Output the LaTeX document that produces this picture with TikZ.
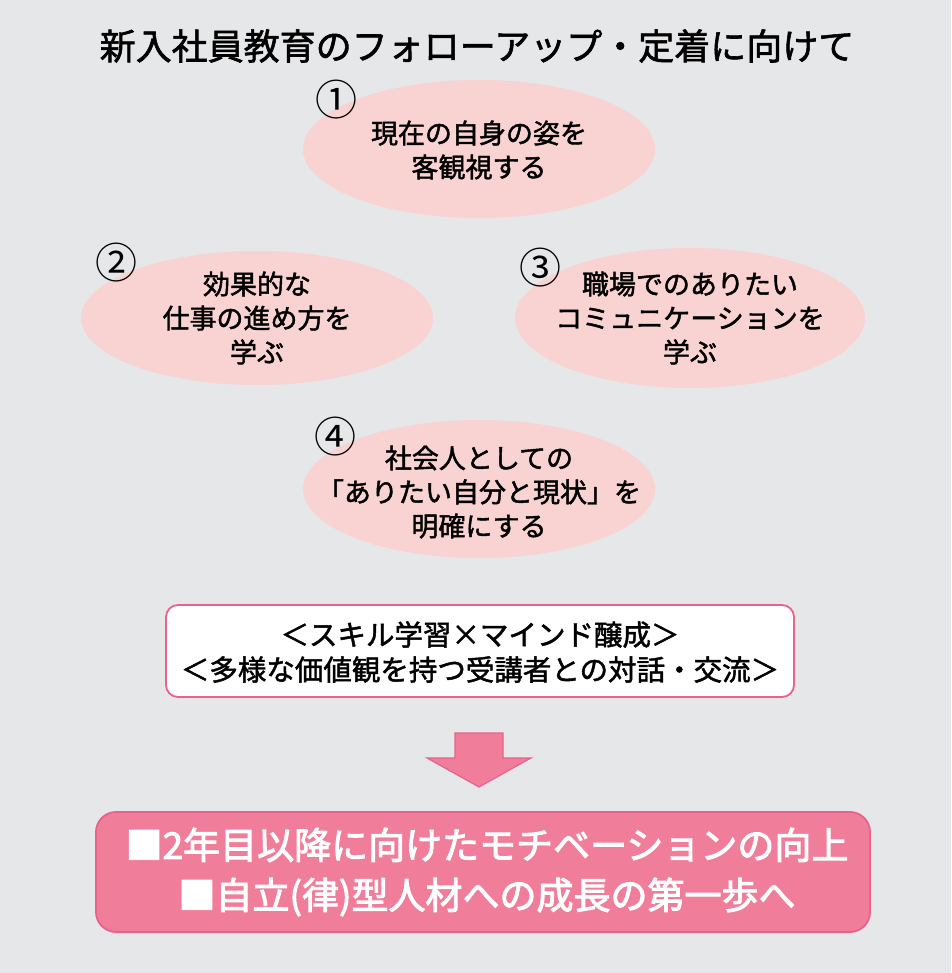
\documentclass[tikz,border=0pt]{standalone}
\usepackage{fontspec}
\setmainfont{Noto Sans CJK JP}
\newfontfamily\medfont{Noto Sans CJK JP}[FakeBold=1.6]
\newfontfamily\heavyfont{Noto Sans CJK JP}[FakeBold=2.6]
\usetikzlibrary{shapes.geometric}
\definecolor{bg}{HTML}{E6E7E9}
\definecolor{bubblefill}{HTML}{F9D3D1}
\definecolor{pinkfill}{HTML}{F07E9A}
\definecolor{pinkline}{HTML}{E8628B}
\tikzset{
  bubble/.style={ellipse, fill=bubblefill, minimum width=352pt, minimum height=138pt, inner sep=0pt},
  btext/.style={align=center, font=\medfont\fontsize{27}{34}\selectfont, text=black},
  numlabel/.style={font=\fontsize{42}{42}\selectfont, inner sep=0pt},
  whitebox/.style={draw=pinkline, line width=1.8pt, fill=white, rounded corners=12pt, minimum width=628pt, minimum height=92pt},
  pinkbox/.style={draw=pinkline, line width=1.8pt, fill=pinkfill, rounded corners=20pt, minimum width=774pt, minimum height=120pt},
}
\begin{document}
\begin{tikzpicture}[x=1pt,y=-1pt]
\fill[bg] (0,0) rectangle (951,973);
\useasboundingbox (0,0) rectangle (951,973);

\node[font=\medfont\fontsize{36}{36}\selectfont] (title) at (477,46) {新入社員教育のフォローアップ・定着に向けて};

\node[bubble] (e1) at (479,149) {};
\node[btext] (t1) at (479,150) {現在の自身の姿を\\客観視する};
\node[numlabel] (n1) at (336,100) {①};

\node[bubble, minimum height=134pt] (e2) at (257,318) {};
\node[btext] (t2) at (257,318) {効果的な\\仕事の進め方を\\学ぶ};
\node[numlabel] (n2) at (116,263) {②};

\node[bubble, minimum width=350pt, minimum height=140pt] (e3) at (690,318) {};
\node[btext] (t3) at (690,318) {職場でのありたい\\コミュニケーションを\\学ぶ};
\node[numlabel] (n3) at (540,268) {③};

\node[bubble] (e4) at (479,489) {};
\node[btext] (t4) at (479,492) {社会人としての\\「ありたい自分と現状」を\\明確にする};
\node[numlabel] (n4) at (335,437) {④};

\node[whitebox] (wb) at (480,651) {};
\node[btext, font=\medfont\fontsize{28.5}{35}\selectfont] (wt) at (480,652) {＜スキル学習×マインド醸成＞\\＜多様な価値観を持つ受講者との対話・交流＞};

\draw[fill=pinkfill, draw=pinkline, line width=1.2pt, line join=miter]
  (455,733) -- (503,733) -- (503,758) -- (531,758) -- (479,787) -- (427,758) -- (455,758) -- cycle;
\coordinate (arrowtip) at (479,787);

\node[pinkbox] (pb) at (483,872) {};
\node[align=center, text=white, font=\heavyfont\fontsize{37}{50}\selectfont] (pt) at (487,872) {■2年目以降に向けたモチベーションの向上\\■自立(律)型人材への成長の第一歩へ};
\end{tikzpicture}
\end{document}
